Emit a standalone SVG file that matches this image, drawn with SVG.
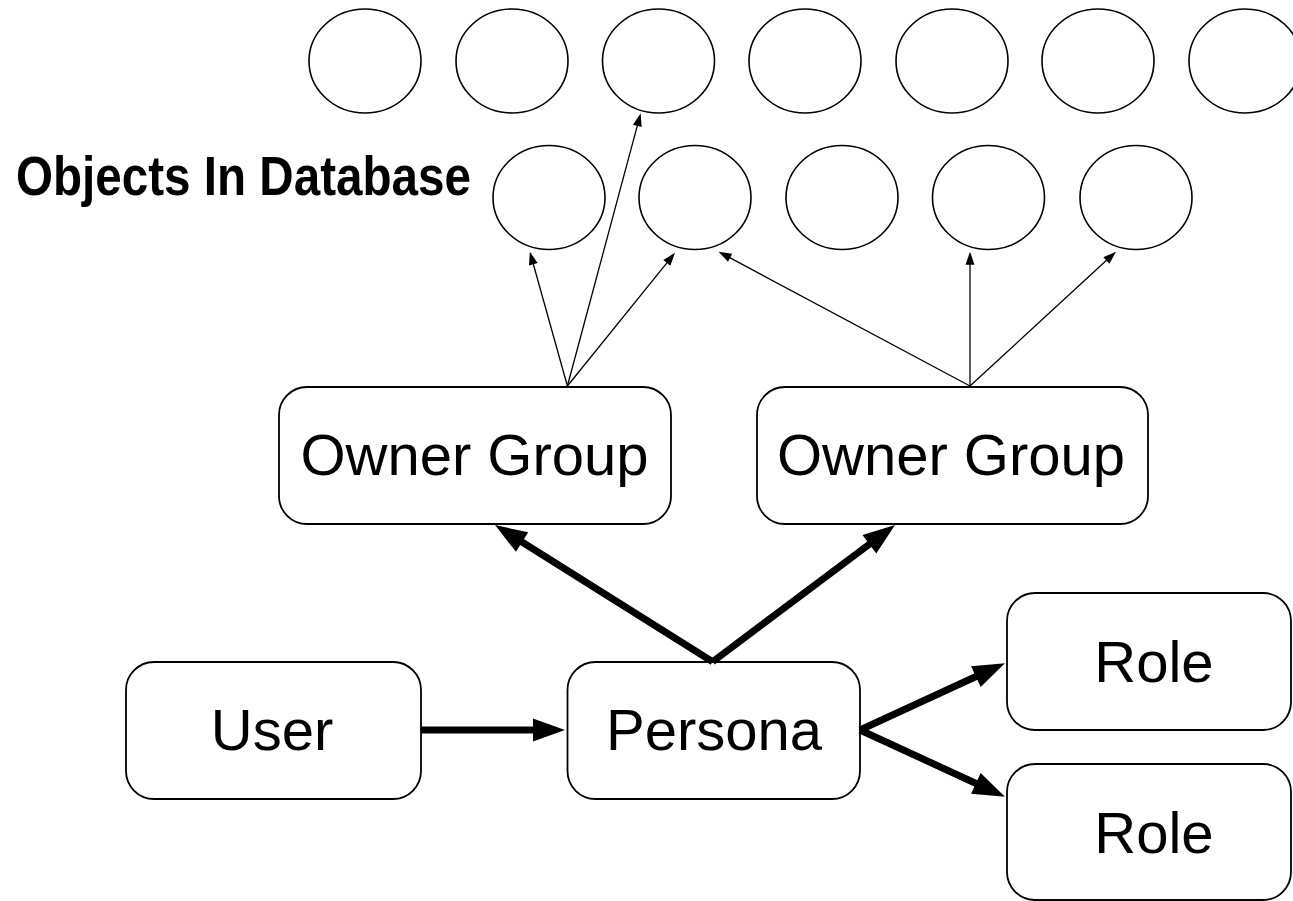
<svg xmlns="http://www.w3.org/2000/svg" width="1293" height="901" viewBox="0 0 1293 901">
  <style>
    .obj { fill: #fff; stroke: #000; stroke-width: 1.6; }
    .box { fill: #fff; stroke: #000; stroke-width: 1.8; }
    .lbl { font-family: "Liberation Sans", Arial, Helvetica, sans-serif; font-size: 58px; fill: #000; text-anchor: middle; }
    .title { font-family: "Liberation Sans", Arial, Helvetica, sans-serif; font-size: 56px; font-weight: bold; fill: #000; }
    .thin { fill: none; stroke: #000; stroke-width: 1.3; marker-end: url(#headThin); }
    .thick { fill: none; stroke: #000; stroke-width: 7; marker-end: url(#headThick); }
  </style>
  <defs>
    <marker id="headThin" markerUnits="userSpaceOnUse" markerWidth="16" markerHeight="12" viewBox="0 -6 16 12" refX="2" refY="0" orient="auto" overflow="visible">
      <path d="M0,-4.5 L13,0 L0,4.5 z" fill="#000"/>
    </marker>
    <marker id="headThick" markerUnits="userSpaceOnUse" markerWidth="34" markerHeight="26" viewBox="0 -13 34 26" refX="2" refY="0" orient="auto" overflow="visible">
      <path d="M0,-11.5 L32,0 L0,11.5 z" fill="#000"/>
    </marker>
  </defs>

  <rect width="1293" height="901" fill="#fff"/>

  <!-- database objects, upper row -->
  <g id="objects-row1">
    <ellipse class="obj" cx="365" cy="61" rx="56" ry="52"/>
    <ellipse class="obj" cx="512" cy="61" rx="56" ry="52"/>
    <ellipse class="obj" cx="658.5" cy="61" rx="56" ry="52"/>
    <ellipse class="obj" cx="805" cy="61" rx="56" ry="52"/>
    <ellipse class="obj" cx="952" cy="61" rx="56" ry="52"/>
    <ellipse class="obj" cx="1098" cy="61" rx="56" ry="52"/>
    <ellipse class="obj" cx="1245" cy="61" rx="56" ry="52"/>
  </g>

  <!-- database objects, lower row -->
  <g id="objects-row2">
    <ellipse class="obj" cx="549" cy="197.5" rx="56" ry="52"/>
    <ellipse class="obj" cx="695" cy="197.5" rx="56" ry="52"/>
    <ellipse class="obj" cx="842" cy="197.5" rx="56" ry="52"/>
    <ellipse class="obj" cx="988.5" cy="197.5" rx="56" ry="52"/>
    <ellipse class="obj" cx="1136" cy="197.5" rx="56" ry="52"/>
  </g>

  <g id="objects-label">
    <text class="title" x="16" y="195" textLength="455" lengthAdjust="spacingAndGlyphs">Objects In Database</text>
  </g>

  <g id="owner-group-1">
    <rect class="box" x="279" y="387" width="392" height="137" rx="28" ry="28"/>
    <text class="lbl" x="474.5" y="475">Owner Group</text>
  </g>

  <g id="owner-group-2">
    <rect class="box" x="757" y="387" width="391" height="137" rx="28" ry="28"/>
    <text class="lbl" x="951" y="475">Owner Group</text>
  </g>

  <g id="user">
    <rect class="box" x="126" y="662" width="295" height="137" rx="28" ry="28"/>
    <text class="lbl" x="272" y="750">User</text>
  </g>

  <g id="persona">
    <rect class="box" x="567.5" y="662" width="292.5" height="137" rx="28" ry="28"/>
    <text class="lbl" x="714" y="750">Persona</text>
  </g>

  <g id="role-1">
    <rect class="box" x="1007" y="593" width="284" height="137" rx="28" ry="28"/>
    <text class="lbl" x="1154" y="682">Role</text>
  </g>

  <g id="role-2">
    <rect class="box" x="1007" y="764" width="284" height="136" rx="28" ry="28"/>
    <text class="lbl" x="1154" y="853">Role</text>
  </g>

  <g id="connectors">
    <!-- owner group 1 to objects -->
    <path class="thin" d="M567.4,386 L532.8,262.3"/>
    <path class="thin" d="M567.4,386 L637.8,123.9"/>
    <path class="thin" d="M567.4,386 L668.1,261.3"/>
    <!-- owner group 2 to objects -->
    <path class="thin" d="M970,386 L728.3,256.9"/>
    <path class="thin" d="M970,386 L970,262.7"/>
    <path class="thin" d="M970,386 L1107.9,259.1"/>
    <!-- user / persona / groups / roles -->
    <path class="thick" d="M421,730 L535,730"/>
    <path class="thick" d="M712.6,661.7 L520.4,541"/>
    <path class="thick" d="M712.6,661.7 L871,543"/>
    <path class="thick" d="M860,730 L977.7,675.8"/>
    <path class="thick" d="M860,730 L977.7,784.2"/>
  </g>
</svg>
